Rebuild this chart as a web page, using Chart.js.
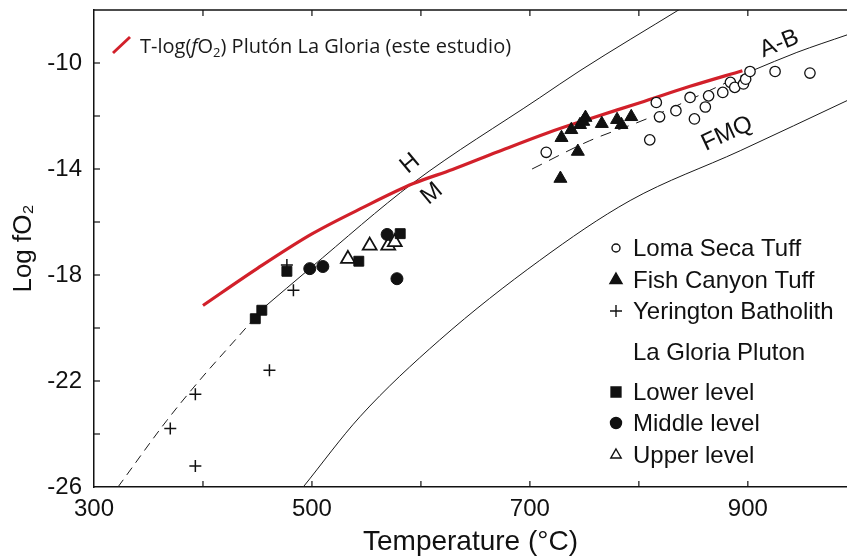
<!DOCTYPE html>
<html>
<head>
<meta charset="utf-8">
<title>T - log fO2</title>
<script src="https://cdn.jsdelivr.net/npm/chart.js@4.4.1/dist/chart.umd.min.js"></script>
<style>
  html, body { margin: 0; padding: 0; background: #fff; }
</style>
</head>
<body>
<canvas id="chart" width="847" height="556"></canvas>
<script>
// Marcas de los ejes (las que llevan número y las intermedias)
const xTicks = [300, 400, 500, 600, 700, 800, 900];
const xTickLabels = [300, 500, 700, 900];
const yTicks = [-26, -24, -22, -20, -18, -16, -14, -12, -10];
const yTickLabels = [-26, -22, -18, -14, -10];

// Curva T-log(fO2) del plutón La Gloria (este estudio)
const gloriaT = [400, 450, 500, 547, 593, 629, 670, 716, 755, 801, 847, 895];
const gloriaLogf = [-19.15, -17.75, -16.45, -15.45, -14.55, -14.02, -13.36, -12.64, -12.1, -11.5, -10.88, -10.29];

// Buffer H-M (parte discontinua y continua)
const hmDashT = [322, 367, 397, 440, 455];
const hmDashLogf = [-26.0, -23.48, -21.97, -19.97, -19.26];
const hmSolidT = [455, 498, 593, 709, 746, 838];
const hmSolidLogf = [-19.26, -17.76, -14.52, -11.31, -10.29, -7.96];

// Curva A-B
const abDashT = [702, 755, 807, 904];
const abDashLogf = [-14.0, -12.93, -12.11, -10.29];
const abSolidT = [904, 945, 991];
const abSolidLogf = [-10.29, -9.6, -8.94];

// Buffer FMQ
const fmqT = [492, 544, 617, 709, 792, 893, 991];
const fmqLogf = [-26.0, -23.35, -20.46, -17.45, -15.19, -13.31, -11.42];

// Muestras
const lomaT = [715, 810, 816, 819, 834, 847, 851, 861, 864, 877, 884, 888, 896, 898, 902, 925, 957];
const lomaLogf = [-13.37, -12.90, -11.49, -12.03, -11.80, -11.30, -12.11, -11.66, -11.24, -11.11, -10.73, -10.92, -10.79, -10.61, -10.32, -10.32, -10.38];

const fishT = [728, 744, 729, 738, 746, 749, 751, 766, 780, 784, 793];
const fishLogf = [-14.36, -13.34, -12.82, -12.52, -12.33, -12.21, -12.06, -12.29, -12.14, -12.33, -12.03];

const yerT = [483, 461, 393, 370, 393, 477];
const yerLogf = [-18.58, -21.59, -22.50, -23.79, -25.21, -17.62];

const lowerT = [448, 454, 477, 543, 581];
const lowerLogf = [-19.65, -19.33, -17.86, -17.48, -16.44];

const middleT = [498, 510, 569, 578];
const middleLogf = [-17.76, -17.68, -16.47, -18.14];

const upperT = [533, 553, 570, 576];
const upperLogf = [-17.39, -16.89, -16.89, -16.76];

// Etiquetas de las curvas (en coordenadas de datos)
const curveLabels = [
  { text: 'H', x: 590, y: -13.8, rot: -40 },
  { text: 'M', x: 610, y: -14.93, rot: -40 },
  { text: 'A-B', x: 929, y: -9.28, rot: -22 },
  { text: 'FMQ', x: 881, y: -12.67, rot: -25 },
];

const pts = (xs, ys) => xs.map((x, i) => ({ x: x, y: ys[i] }));

const lineDs = (label, xs, ys, dash) => ({
  label: label,
  data: pts(xs, ys),
  showLine: true,
  pointRadius: 0,
  borderColor: '#1a1a1a',
  borderWidth: 1,
  borderDash: dash || [],
  cubicInterpolationMode: 'monotone',
  order: 3,
});

const SANS = '"Liberation Sans", Arial, Helvetica, sans-serif';

// sin márgenes extra: el área del gráfico queda fija
const fitBox = size => s => {
  if (s.isHorizontal()) s.height = size; else s.width = size;
  s.paddingLeft = 0; s.paddingRight = 0; s.paddingTop = 0; s.paddingBottom = 0;
};

// Leyenda y detalles de ejes dibujados a mano
const extras = {
  id: 'extras',
  afterDraw(chart) {
    const { ctx, chartArea: a, scales: { x, y } } = chart;
    ctx.save();
    ctx.strokeStyle = '#111';
    ctx.lineWidth = 1.5;
    ctx.beginPath();
    ctx.moveTo(a.left, a.top);
    ctx.lineTo(a.right, a.top);
    ctx.stroke();

    // marcas hacia dentro
    ctx.lineWidth = 1.2;
    xTicks.slice(1).forEach(v => {
      const px = x.getPixelForValue(v);
      ctx.beginPath();
      ctx.moveTo(px, a.bottom); ctx.lineTo(px, a.bottom - 6);
      ctx.moveTo(px, a.top); ctx.lineTo(px, a.top + 6);
      ctx.stroke();
    });
    yTicks.slice(1).forEach(v => {
      const py = y.getPixelForValue(v);
      ctx.beginPath();
      ctx.moveTo(a.left, py); ctx.lineTo(a.left + 6, py);
      ctx.stroke();
    });

    // nombres de las curvas
    ctx.fillStyle = '#111';
    ctx.font = '24px ' + SANS;
    ctx.textAlign = 'center';
    ctx.textBaseline = 'middle';
    curveLabels.forEach(l => {
      ctx.save();
      ctx.translate(x.getPixelForValue(l.x), y.getPixelForValue(l.y));
      ctx.rotate(l.rot * Math.PI / 180);
      ctx.fillText(l.text, 0, 0);
      ctx.restore();
    });

    // leyenda roja arriba a la izquierda
    ctx.strokeStyle = '#d2202a';
    ctx.lineWidth = 3;
    ctx.beginPath();
    ctx.moveTo(113, 53);
    ctx.lineTo(130, 37);
    ctx.stroke();
    ctx.textAlign = 'left';
    ctx.textBaseline = 'alphabetic';
    ctx.fillStyle = '#1a1a1a';
    let cx = 140;
    const base = 53;
    const piece = (txt, font, dy) => {
      ctx.font = font;
      ctx.fillText(txt, cx, base + (dy || 0));
      cx += ctx.measureText(txt).width;
    };
    const OS = '"Open Sans", "Noto Sans", sans-serif';
    piece('T-log(', '20px ' + OS);
    piece('f', 'italic 20px ' + OS);
    piece('O', '20px ' + OS);
    piece('2', '13px ' + OS, 4);
    piece(') Plutón La Gloria (este estudio)', '20px ' + OS);

    // leyenda de muestras
    const rows = [
      { text: 'Loma Seca Tuff', y: 248, style: 'circle', r: 4, fill: '#fff' },
      { text: 'Fish Canyon Tuff', y: 280, style: 'triangle', r: 7, fill: '#111' },
      { text: 'Yerington Batholith', y: 311, style: 'cross', r: 6, fill: '#111' },
      { text: 'La Gloria Pluton', y: 352, style: null },
      { text: 'Lower level', y: 392, style: 'rect', r: 7, fill: '#111' },
      { text: 'Middle level', y: 423, style: 'circle', r: 5.5, fill: '#111' },
      { text: 'Upper level', y: 455, style: 'triangle', r: 6, fill: '#fff' },
    ];
    ctx.font = '24px ' + SANS;
    ctx.textBaseline = 'middle';
    rows.forEach(r => {
      ctx.fillStyle = '#111';
      ctx.fillText(r.text, 633, r.y + 1);
      if (r.style) {
        ctx.fillStyle = r.fill;
        ctx.strokeStyle = '#111';
        ctx.lineWidth = 1.4;
        Chart.helpers.drawPoint(ctx, { pointStyle: r.style, radius: r.r, borderWidth: 1.4 }, 616, r.y);
      }
    });
    ctx.restore();
  }
};

new Chart(document.getElementById('chart').getContext('2d'), {
  type: 'scatter',
  data: {
    datasets: [
      { label: 'Loma Seca Tuff', data: pts(lomaT, lomaLogf), pointStyle: 'circle', pointRadius: 5.2,
        backgroundColor: '#fff', borderColor: '#111', borderWidth: 1.3, order: 1 },
      { label: 'Fish Canyon Tuff', data: pts(fishT, fishLogf), pointStyle: 'triangle', pointRadius: 7.5,
        backgroundColor: '#111', borderColor: '#111', borderWidth: 1, order: 1 },
      { label: 'Yerington Batholith', data: pts(yerT, yerLogf), pointStyle: 'cross', pointRadius: 6,
        borderColor: '#111', borderWidth: 1.5, order: 1 },
      { label: 'Lower level', data: pts(lowerT, lowerLogf), pointStyle: 'rect', pointRadius: 7,
        backgroundColor: '#111', borderColor: '#111', borderWidth: 1, order: 0 },
      { label: 'Middle level', data: pts(middleT, middleLogf), pointStyle: 'circle', pointRadius: 6,
        backgroundColor: '#111', borderColor: '#111', borderWidth: 1, order: 0 },
      { label: 'Upper level', data: pts(upperT, upperLogf), pointStyle: 'triangle', pointRadius: 8,
        backgroundColor: '#fff', borderColor: '#111', borderWidth: 1.8, order: 0 },
      {
        label: 'T-log(fO2) Plutón La Gloria (este estudio)',
        data: pts(gloriaT, gloriaLogf),
        showLine: true,
        pointRadius: 0,
        borderColor: '#d2202a',
        borderWidth: 3.2,
        cubicInterpolationMode: 'monotone',
        order: 2,
      },
      lineDs('H-M (dashed)', hmDashT, hmDashLogf, [9, 6]),
      lineDs('H-M', hmSolidT, hmSolidLogf),
      lineDs('A-B (dashed)', abDashT, abDashLogf, [11, 8]),
      lineDs('A-B', abSolidT, abSolidLogf),
      lineDs('FMQ', fmqT, fmqLogf),
    ],
  },
  options: {
    responsive: false,
    animation: false,
    layout: { autoPadding: false, padding: { top: 10, right: 0, left: 0, bottom: 0 } },
    plugins: { legend: { display: false }, tooltip: { enabled: false } },
    scales: {
      x: {
        type: 'linear',
        min: 300,
        max: 991,
        afterBuildTicks: s => { s.ticks = xTicks.map(v => ({ value: v })); },
        afterFit: fitBox(69),
        grid: { display: false, drawTicks: false },
        border: { display: true, color: '#111', width: 1.5 },
        ticks: {
          autoSkip: false,
          maxRotation: 0,
          padding: 8,
          color: '#111',
          font: { family: SANS, size: 24 },
          callback: v => (xTickLabels.includes(v) ? v : ''),
        },
        title: {
          display: true,
          text: 'Temperature (°C)',
          color: '#111',
          font: { family: SANS, size: 28, lineHeight: 1 },
          padding: { top: 0, bottom: 0 },
        },
      },
      y: {
        type: 'linear',
        min: -26,
        max: -8,
        afterBuildTicks: s => { s.ticks = yTicks.map(v => ({ value: v })); },
        afterFit: fitBox(94),
        grid: { display: false, drawTicks: false },
        border: { display: true, color: '#111', width: 1.5 },
        ticks: {
          autoSkip: false,
          padding: 12,
          color: '#111',
          font: { family: SANS, size: 24 },
          callback: v => (yTickLabels.includes(v) ? v : ''),
        },
        title: {
          display: true,
          text: 'Log fO₂',
          color: '#111',
          font: { family: SANS, size: 26, lineHeight: 1 },
          padding: { top: 11, bottom: 0 },
        },
      },
    },
  },
  plugins: [extras],
});
</script>
</body>
</html>
